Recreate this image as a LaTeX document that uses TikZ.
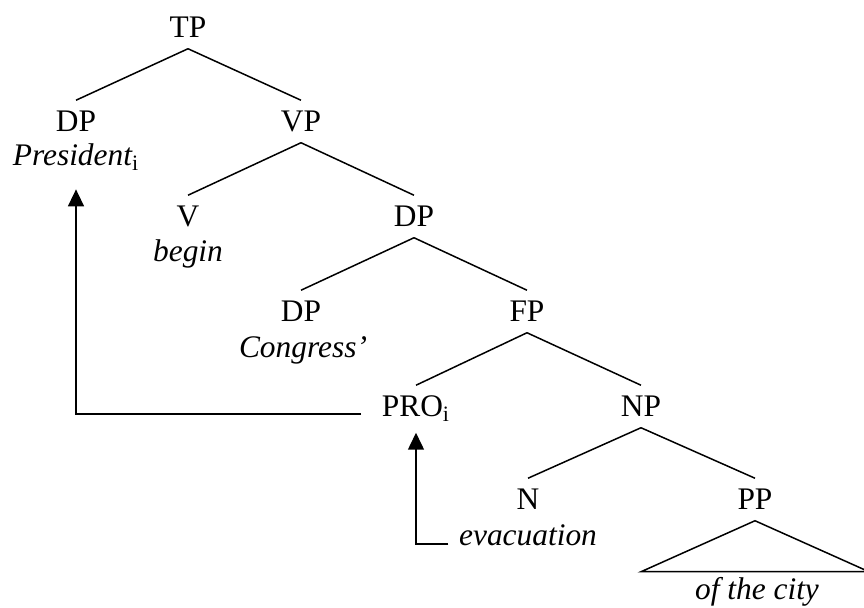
\documentclass[tikz,border=0pt]{standalone}
\usepackage{fontspec}
\setmainfont{Liberation Serif}
\usetikzlibrary{arrows.meta}

\begin{document}
\begin{tikzpicture}[x=0.5pt,y=-0.5pt,
      every node/.style={font=\fontsize{15.7pt}{19pt}\selectfont, inner sep=0pt, anchor=base},
      cat/.style={text height=15.5pt, text depth=5pt},
      word/.style={font=\fontsize{15.7pt}{19pt}\selectfont\itshape},
      ptr/.style={-{Triangle[width=8pt,length=8.5pt]}},
      every path/.style={line width=0.75pt}]
      \useasboundingbox (0,0) rectangle (864,608);

      \node at(188,38) [cat] (tp) {TP};
      \node at(76,132) [cat] (dp-subj) {DP};
      \node at(301,132) [cat] (vp) {VP};
      \node at(76,166) [word] (president) {President\textsubscript{\upshape i}};
      \node at(188,227) [cat] (v) {V};
      \node at(414,227) [cat] (dp-obj) {DP};
      \node at(188,262) [word] (begin) {begin};
      \node at(301,322) [cat] (dp-poss) {DP};
      \node at(527,322) [cat] (fp) {FP};
      \node at(303,358) [word] (congress) {Congress'};
      \node at(416,417) [cat] (pro) {PRO\textsubscript{i}};
      \node at(641,417) [cat] (np) {NP};
      \node at(528,510) [cat] (n) {N};
      \node at(755,510) [cat] (pp) {PP};
      \node at(528,546) [word] (evac) {evacuation};
      \node at(757,600) [word] (city) {of the city};

      \draw
      (tp.south)     edge (dp-subj.north)
                     edge (vp.north)
      (vp.south)     edge (v.north)
                     edge (dp-obj.north)
      (dp-obj.south) edge (dp-poss.north)
                     edge (fp.north)
      (fp.south)     edge (pro.north)
                     edge (np.north)
      (np.south)     edge (n.north)
                     edge (pp.north)
      ;
      \draw (pp.south) -- ++(-114,51) -- ++(228,0) -- cycle;

      \draw[ptr, shorten <=10pt, shorten >=9pt]
      ([yshift=1.5pt]pro.base west) -| (president.south);
      \draw[ptr, shorten <=5pt, shorten >=2.5pt]
      ([yshift=1pt]evac.base west) -| (pro.south);
    \end{tikzpicture}
\end{document}
